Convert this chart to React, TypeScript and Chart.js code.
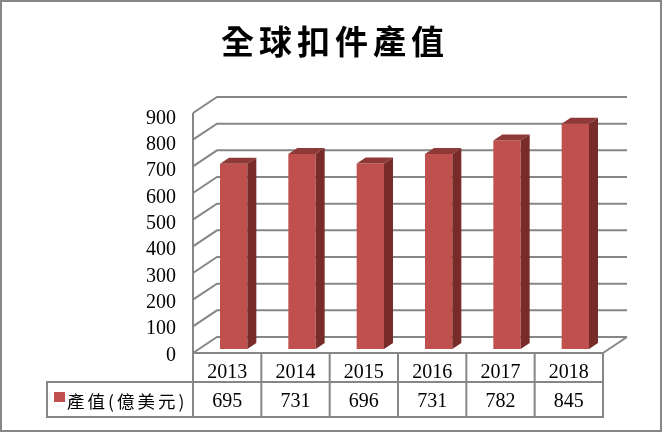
import React, { useEffect, useRef } from "react";
import { Chart, registerables } from "chart.js";

Chart.register(...registerables);

const chartTitle = "全球扣件產值";
const seriesName = "產值(億美元)";
const years = ["2013", "2014", "2015", "2016", "2017", "2018"];
const values = [695, 731, 696, 731, 782, 845];
const valueLabels = ["695", "731", "696", "731", "782", "845"];
const yTicks = [0, 100, 200, 300, 400, 500, 600, 700, 800, 900];

const GRID = "#868686";
const FRONT = "#C0504D";
const TOP = "#8F3A38";
const SIDE = "#772C2A";
const TEXT = "#000000";
const SERIF = "'Liberation Serif', 'Noto Sans CJK TC', serif";
const CJK = "'Noto Sans CJK TC', sans-serif";

// Depth of the floor / walls and of the bars
const WALL_DX = 24;
const WALL_DY = 16;
const BAR_DX = 9;
const BAR_DY = 6;
const FRONT_SHIFT = 4; // front edge lies this far below the bar base

const line = (ctx: CanvasRenderingContext2D, pts: number[][]) => {
  ctx.beginPath();
  pts.forEach(([x, y], i) => (i ? ctx.lineTo(x, y) : ctx.moveTo(x, y)));
  ctx.stroke();
};

const poly = (ctx: CanvasRenderingContext2D, pts: number[][], fill: string) => {
  ctx.fillStyle = fill;
  ctx.beginPath();
  pts.forEach(([x, y], i) => (i ? ctx.lineTo(x, y) : ctx.moveTo(x, y)));
  ctx.closePath();
  ctx.fill();
};

const scene3d = {
  id: "scene3d",
  beforeDatasetsDraw(chart: any) {
    const { ctx, scales, chartArea } = chart;
    const { left, right } = chartArea;
    const y = scales.y;
    ctx.save();
    ctx.strokeStyle = GRID;
    ctx.lineWidth = 2;

    // frame
    ctx.strokeRect(1, 1, 660, 430);

    // back wall grid lines + oblique side-wall lines
    yTicks.forEach((v) => {
      const py = y.getPixelForValue(v);
      const fy = py + FRONT_SHIFT;
      const by = fy - WALL_DY;
      line(ctx, [
        [left, fy],
        [left + WALL_DX, by],
        [right + WALL_DX, by],
      ]);
    });
    const zero = y.getPixelForValue(0) + FRONT_SHIFT;
    const topV = y.getPixelForValue(yTicks[yTicks.length - 1]) + FRONT_SHIFT;
    // left axis, floor right edge
    line(ctx, [
      [left, topV],
      [left, zero],
    ]);
    line(ctx, [
      [right, zero],
      [right + WALL_DX, zero - WALL_DY],
    ]);

    // data table
    const rowTop = scales.x.top;
    const rowMid = scales.xValues.top;
    const rowEnd = scales.xValues.bottom;
    const legendLeft = 47;
    const n = years.length;
    const colW = (right - left) / n;
    ctx.beginPath();
    ctx.moveTo(left, rowTop);
    ctx.lineTo(right, rowTop);
    ctx.moveTo(legendLeft, rowMid);
    ctx.lineTo(right, rowMid);
    ctx.moveTo(legendLeft, rowEnd);
    ctx.lineTo(right, rowEnd);
    ctx.moveTo(legendLeft, rowMid - 1);
    ctx.lineTo(legendLeft, rowEnd + 1);
    for (let i = 0; i <= n; i++) {
      ctx.moveTo(left + colW * i, rowTop);
      ctx.lineTo(left + colW * i, rowEnd + 1);
    }
    ctx.stroke();

    // legend cell
    ctx.fillStyle = FRONT;
    ctx.fillRect(54, rowMid + 10, 11, 10);
    ctx.fillStyle = TEXT;
    ctx.font = `400 17.5px ${CJK}`;
    (ctx as any).letterSpacing = "3px";
    ctx.textAlign = "left";
    ctx.textBaseline = "middle";
    ctx.fillText(seriesName, 67, rowMid + 19);

    // title
    ctx.font = `700 33px ${CJK}`;
    (ctx as any).letterSpacing = "5px";
    ctx.textAlign = "center";
    ctx.fillText(chartTitle, 335, 41);
    (ctx as any).letterSpacing = "0px";
    ctx.restore();
  },
  afterDatasetsDraw(chart: any) {
    const { ctx } = chart;
    const meta = chart.getDatasetMeta(0);
    ctx.save();
    meta.data.forEach((bar: any) => {
      const { x, y, width, base } = bar.getProps(["x", "y", "width", "base"], true);
      const l = x - width / 2;
      const r = x + width / 2;
      poly(ctx, [[l, y], [l + BAR_DX, y - BAR_DY], [r + BAR_DX, y - BAR_DY], [r, y]], TOP);
      poly(ctx, [[r, y], [r + BAR_DX, y - BAR_DY], [r + BAR_DX, base - BAR_DY], [r, base]], SIDE);
    });
    ctx.restore();
  },
};

const setHeight = (h: number) => (scale: any) => {
  scale.height = h;
};

export default function App() {
  const ref = useRef<HTMLCanvasElement>(null);
  useEffect(() => {
    const chart = new Chart(ref.current!, {
      type: "bar",
      data: {
        datasets: [
          {
            label: seriesName,
            data: values.map((v, i) => ({ x: i, y: v })),
            backgroundColor: FRONT,
            borderWidth: 0,
            categoryPercentage: 0.4,
            barPercentage: 1,
            xAxisID: "xBars",
            yAxisID: "y",
          },
        ],
      },
      plugins: [scene3d],
      options: {
        animation: false,
        responsive: false,
        devicePixelRatio: 1,
        layout: { padding: { top: 97, right: 60, bottom: 15, left: 0 } },
        plugins: { legend: { display: false }, title: { display: false }, tooltip: { enabled: false } },
        scales: {
          xBars: {
            type: "linear",
            display: false,
            offset: false,
            min: -0.595,
            max: 5.405,
          },
          y: {
            type: "linear",
            position: "left",
            min: -15,
            max: 945,
            display: false,
          },
          yLabels: {
            type: "linear",
            position: "left",
            min: 9.5,
            max: 981.7,
            afterBuildTicks: (s: any) => {
              s.ticks = yTicks.map((value) => ({ value }));
            },
            afterFit: (s: any) => {
              s.width = 193;
            },
            grid: { display: false, drawTicks: false },
            border: { display: false },
            ticks: {
              color: TEXT,
              padding: 17,
              autoSkip: false,
              font: { family: SERIF, size: 20 },
            },
          },
          x: {
            type: "category",
            position: "bottom",
            weight: 1,
            labels: years,
            afterFit: setHeight(29),
            grid: { display: false, drawTicks: false },
            border: { display: false },
            ticks: {
              color: TEXT,
              padding: 8,
              maxRotation: 0,
              font: { family: SERIF, size: 20 },
            },
          },
          xValues: {
            type: "category",
            position: "bottom",
            weight: 2,
            labels: valueLabels,
            afterFit: setHeight(35),
            grid: { display: false, drawTicks: false },
            border: { display: false },
            ticks: {
              color: TEXT,
              padding: 8,
              maxRotation: 0,
              font: { family: SERIF, size: 20 },
            },
          },
        },
      } as any,
    });
    return () => chart.destroy();
  }, []);
  return (
    <canvas
      ref={ref}
      width={663}
      height={432}
      style={{ position: "absolute", left: 0, top: 0, background: "#fff" }}
    />
  );
}
